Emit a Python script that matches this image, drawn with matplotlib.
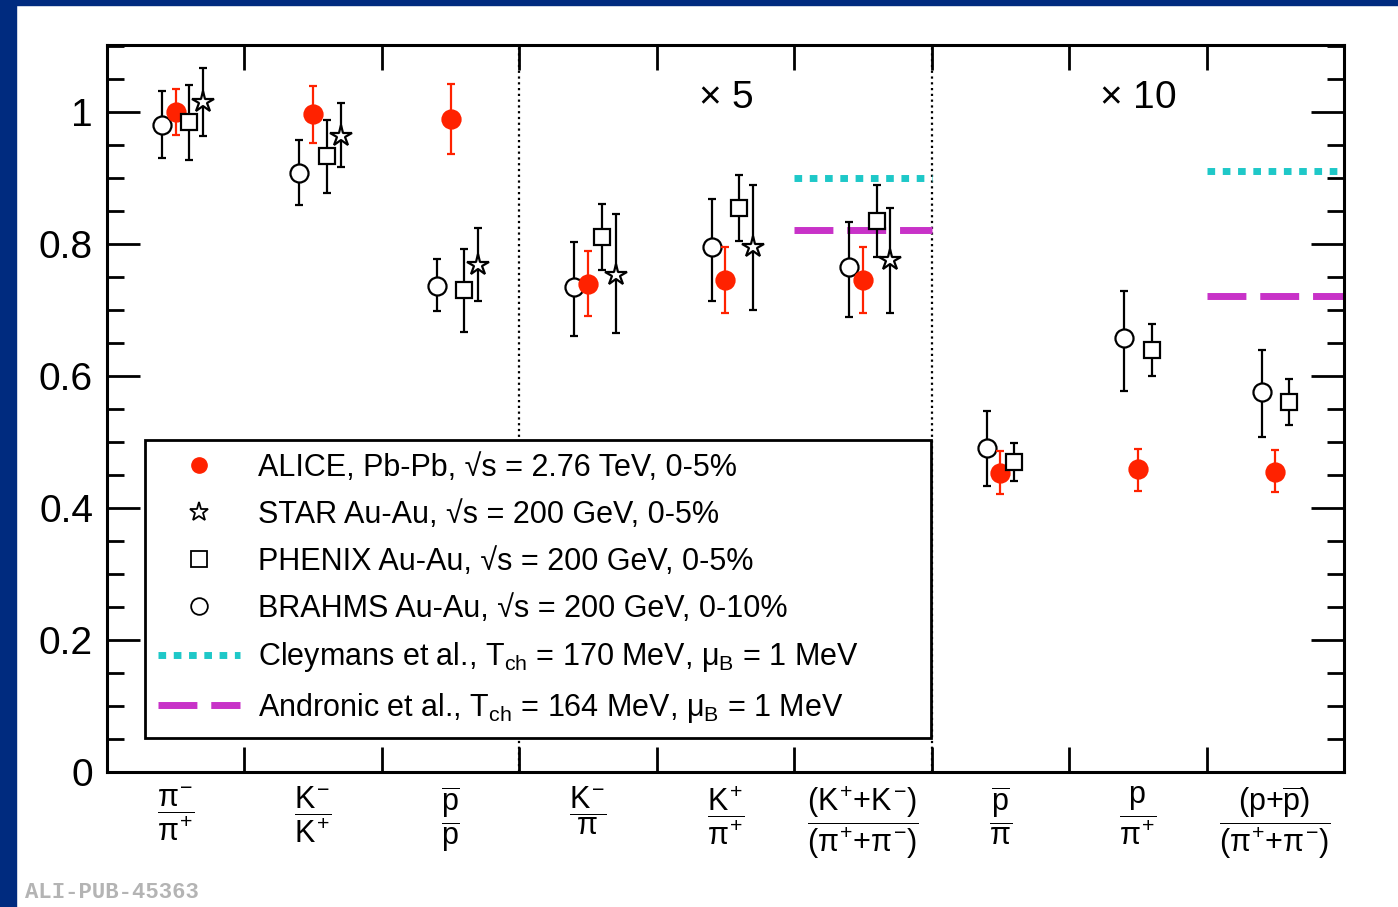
import numpy as np
import matplotlib
matplotlib.use("Agg")
import matplotlib.pyplot as plt
from matplotlib.patches import Rectangle
from matplotlib.lines import Line2D
from matplotlib.ticker import MultipleLocator, FormatStrFormatter

plt.rcParams['font.family'] = ['Liberation Sans', 'DejaVu Sans']
plt.rcParams['mathtext.fontset'] = 'custom'
plt.rcParams['mathtext.rm'] = 'Liberation Sans'
plt.rcParams['mathtext.it'] = 'Liberation Sans'
plt.rcParams['mathtext.bf'] = 'Liberation Sans:bold'

# ratio labels (9 categories)
categories = [
    r"$\dfrac{\pi^{-}}{\pi^{+}}$",
    r"$\dfrac{K^{-}}{K^{+}}$",
    r"$\dfrac{\overline{p}}{p}$",
    r"$\dfrac{K^{-}}{\pi}$",
    r"$\dfrac{K^{+}}{\pi^{+}}$",
    r"$\dfrac{(K^{+}{+}K^{-})}{(\pi^{+}{+}\pi^{-})}$",
    r"$\dfrac{\overline{p}}{\pi}$",
    r"$\dfrac{p}{\pi^{+}}$",
    r"$\dfrac{(p{+}\overline{p})}{(\pi^{+}{+}\pi^{-})}$",
]

# values as plotted (already scaled by x5 / x10)
alice = [1.000, 0.997, 0.990, 0.739, 0.746, 0.746, 0.453, 0.459, 0.455]
alice_lo = [0.965, 0.953, 0.937, 0.691, 0.695, 0.695, 0.421, 0.426, 0.424]
alice_hi = [1.035, 1.039, 1.043, 0.790, 0.795, 0.795, 0.487, 0.489, 0.488]

star = [1.015, 0.964, 0.768, 0.753, 0.795, 0.776, np.nan, np.nan, np.nan]
star_lo = [0.964, 0.917, 0.714, 0.665, 0.700, 0.695, np.nan, np.nan, np.nan]
star_hi = [1.067, 1.013, 0.824, 0.846, 0.890, 0.854, np.nan, np.nan, np.nan]

phenix = [0.985, 0.933, 0.730, 0.810, 0.855, 0.835, 0.470, 0.639, 0.560]
phenix_lo = [0.927, 0.878, 0.667, 0.761, 0.805, 0.780, 0.441, 0.600, 0.525]
phenix_hi = [1.041, 0.988, 0.793, 0.861, 0.905, 0.890, 0.498, 0.679, 0.595]

brahms = [0.980, 0.908, 0.737, 0.735, 0.796, 0.765, 0.491, 0.657, 0.575]
brahms_lo = [0.930, 0.859, 0.698, 0.661, 0.714, 0.689, 0.433, 0.578, 0.507]
brahms_hi = [1.032, 0.958, 0.777, 0.803, 0.868, 0.834, 0.547, 0.729, 0.639]

# thermal model predictions (category index, value)
theory_cat = [5, 8]
cleymans = [0.900, 0.910]
andronic = [0.821, 0.721]

scale_labels = [r"$\times$ 5", r"$\times$ 10"]
scale_cat = [4, 7]

fig = plt.figure(figsize=(13.98, 9.07), dpi=100)
fig.patch.set_facecolor('white')
# dark blue slide border
fig.patches.append(Rectangle((0, 0), 16 / 1398, 1, transform=fig.transFigure,
                             color='#002b7f', zorder=0))
fig.patches.append(Rectangle((0, 1 - 5 / 907), 1, 5 / 907, transform=fig.transFigure,
                             color='#002b7f', zorder=0))

ax = fig.add_axes([107 / 1398, 135 / 907, 1237 / 1398, 727 / 907])
x = np.arange(len(categories)) + 0.5


def draw(vals, lo, hi, dx, color, marker, ms, mfc, z):
    v = np.array(vals, dtype=float)
    err = np.array([v - np.array(lo, dtype=float), np.array(hi, dtype=float) - v])
    ax.errorbar(x + dx, v, yerr=err, fmt='none', ecolor=color, elinewidth=1.6,
                capsize=3, capthick=1.6, zorder=z)
    ax.plot(x + dx, v, linestyle='none', marker=marker, ms=ms, mfc=mfc,
            mec=color, mew=1.6, zorder=z + 0.5)


draw(brahms, brahms_lo, brahms_hi, -0.10, 'black', 'o', 13, 'white', 3)
draw(alice, alice_lo, alice_hi, 0.0, '#ff2200', 'o', 13, '#ff2200', 4)
draw(phenix, phenix_lo, phenix_hi, 0.10, 'black', 's', 12, 'white', 5)
draw(star, star_lo, star_hi, 0.20, 'black', '*', 16, 'white', 6)

for c, yc, ya in zip(theory_cat, cleymans, andronic):
    ax.plot([c, c + 1], [yc, yc], color='#1ec8c8', lw=5, linestyle=(0, (1.1, 1.1)),
            dash_capstyle='butt', zorder=2)
    ax.plot([c, c + 1], [ya, ya], color='#c832c8', lw=5, linestyle=(0, (5.6, 2.0)),
            dash_capstyle='butt', zorder=2)

for xv in [3, 6]:
    ax.axvline(xv, color='black', lw=1.6, linestyle=(0, (1, 1.6)), zorder=1)

for lab, c in zip(scale_labels, scale_cat):
    ax.text(c + 0.5, 1.021, lab, ha='center', va='center', fontsize=28)

ax.set_xlim(0, 9)
ax.set_ylim(0, 1.1015)
ax.set_xticks(np.arange(1, 9))
ax.set_xticklabels([])
ax.set_xticks(x, categories, minor=True)
ax.tick_params(axis='x', which='major', direction='in', length=18, width=2,
               top=True, bottom=True)
ax.tick_params(axis='x', which='minor', length=0, labelsize=22, pad=9)
ax.yaxis.set_major_locator(MultipleLocator(0.2))
ax.yaxis.set_minor_locator(MultipleLocator(0.05))
ax.yaxis.set_major_formatter(FormatStrFormatter('%g'))
ax.tick_params(axis='y', which='major', direction='in', length=24, width=2,
               left=True, right=True, labelsize=28, pad=10)
ax.tick_params(axis='y', which='minor', direction='in', length=12, width=2,
               left=True, right=True)
for s in ax.spines.values():
    s.set_linewidth(2.2)

handles = [
    Line2D([], [], linestyle='none', marker='o', ms=11, mfc='#ff2200', mec='#ff2200'),
    Line2D([], [], linestyle='none', marker='*', ms=14, mfc='white', mec='black', mew=1.3),
    Line2D([], [], linestyle='none', marker='s', ms=11, mfc='white', mec='black', mew=1.3),
    Line2D([], [], linestyle='none', marker='o', ms=12, mfc='white', mec='black', mew=1.3),
    Line2D([], [], color='#1ec8c8', lw=5, linestyle=(0, (1.1, 1.1))),
    Line2D([], [], color='#c832c8', lw=5, linestyle=(0, (5.6, 2.0))),
]
labels = [
    "ALICE, Pb-Pb, √s = 2.76 TeV, 0-5%",
    "STAR Au-Au, √s = 200 GeV, 0-5%",
    "PHENIX Au-Au, √s = 200 GeV, 0-5%",
    "BRAHMS Au-Au, √s = 200 GeV, 0-10%",
    r"Cleymans et al., T$_{\rm ch}$ = 170 MeV, $\mu_{\rm B}$ = 1 MeV",
    r"Andronic et al., T$_{\rm ch}$ = 164 MeV, $\mu_{\rm B}$ = 1 MeV",
]
leg = ax.legend(handles, labels, loc='lower left',
                bbox_to_anchor=(38 / 1237, 34 / 727, 786 / 1237, 301 / 727),
                mode='expand', fontsize=22, frameon=True, fancybox=False,
                edgecolor='black', framealpha=1, borderaxespad=0,
                handlelength=2.68, handletextpad=0.6, labelspacing=0.55,
                borderpad=0.42)
leg.get_frame().set_linewidth(2.0)
leg.set_zorder(8)

fig.text(25 / 1398, 14 / 907, "ALI-PUB-45363", fontsize=16, color='#b4b4b4',
         family='Liberation Mono', weight='bold', va='center', ha='left')

fig.savefig('out.png', dpi=100)
